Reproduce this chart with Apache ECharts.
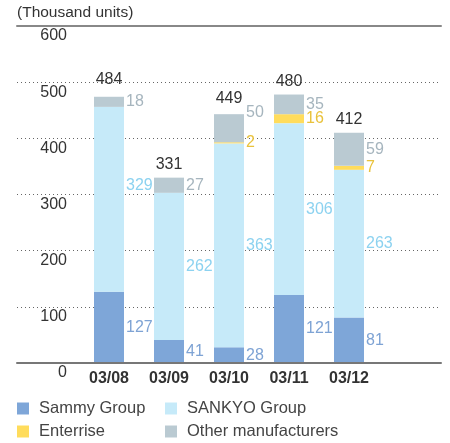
<!DOCTYPE html>
<html>
<head>
<meta charset="utf-8">
<script src="https://cdn.jsdelivr.net/npm/echarts@6/dist/echarts.min.js"></script>
<style>
  html, body { margin: 0; padding: 0; background: #fff; }
  #main { width: 450px; height: 443px; }
</style>
</head>
<body>
<div id="main"></div>
<script>
// data (thousand units)
var years = ['03/08', '03/09', '03/10', '03/11', '03/12'];
var sammy = [127, 41, 28, 121, 81];
var sankyo = [329, 262, 363, 306, 263];
var enterrise = [null, null, 2, 16, 7];
var others = [18, 27, 50, 35, 59];
var totals = [484, 331, 449, 480, 412];
var yTicks = [0, 100, 200, 300, 400, 500, 600];

var FONT = 'Liberation Sans, Arial, sans-serif';

var myChart = echarts.init(document.getElementById('main'));

function segLabel(color) {
  return {
    show: true,
    position: 'right',
    distance: 2,
    color: color,
    fontSize: 16,
    fontFamily: FONT,
    formatter: function (p) { return p.value == null ? '' : p.value; }
  };
}

// a couple of labels sit a bit higher in the original
function shifted(arr, idx, dy) {
  return arr.map(function (v, i) {
    return i === idx ? { value: v, label: { offset: [0, dy] } } : v;
  });
}

// one legend per item so they sit in a 2x2 block
function legendItem(name, left, top) {
  return {
    left: left, top: top, itemWidth: 12, itemHeight: 12, icon: 'rect',
    padding: 0, data: [name],
    textStyle: { fontSize: 16.5, color: '#444', fontFamily: FONT, padding: [0, 0, 0, 5] }
  };
}

var yMin = yTicks[0];
var yMax = yTicks[yTicks.length - 1];

myChart.setOption({
  animation: false,
  title: {
    text: '(Thousand units)',
    left: 12,
    top: 0,
    textStyle: { fontSize: 15.5, fontWeight: 'normal', color: '#333', fontFamily: FONT }
  },
  grid: [
    // background grid: rules + y labels, spans the full width
    { left: 17, right: 9, top: 26, height: 337 },
    // bars
    { left: 79, width: 300, top: 26, height: 337 }
  ],
  xAxis: [
    {
      gridIndex: 0, type: 'value', position: 'bottom', min: 0, max: 1, z: 10,
      axisLine: { show: true, onZero: false, lineStyle: { color: '#777', width: 2 } },
      axisTick: { show: false }, axisLabel: { show: false }, splitLine: { show: false }
    },
    {
      // solid rule along the top (needs z or the dotted line covers it)
      gridIndex: 0, type: 'value', position: 'top', min: 0, max: 1, z: 10,
      axisLine: { show: true, onZero: false, lineStyle: { color: '#888', width: 2 } },
      axisTick: { show: false }, axisLabel: { show: false }, splitLine: { show: false }
    },
    {
      gridIndex: 1, type: 'category', data: years,
      axisLine: { show: false }, axisTick: { show: false },
      axisLabel: { margin: 8, fontSize: 16, fontWeight: 'bold', color: '#333', fontFamily: FONT }
    }
  ],
  yAxis: [
    {
      // dotted rules + labels
      gridIndex: 0, type: 'value', min: yMin, max: yMax, interval: 100,
      axisLine: { show: false }, axisTick: { show: false },
      axisLabel: {
        inside: true, margin: 50, align: 'right', verticalAlign: 'top',
        padding: [2, 0, 0, 0], fontSize: 16, color: '#333', fontFamily: FONT
      },
      splitLine: {
        show: true,
        lineStyle: { color: '#666', type: [1, 3], width: 1 }
      }
    },
    {
      gridIndex: 1, type: 'value', min: yMin, max: yMax, interval: 100, show: false
    }
  ],
  legend: [
    legendItem('Sammy Group', 17, 400),
    legendItem('SANKYO Group', 165, 400),
    legendItem('Enterrise', 17, 423),
    legendItem('Other manufacturers', 165, 423)
  ],
  series: [
    {
      name: 'Sammy Group', type: 'bar', stack: 'units', xAxisIndex: 2, yAxisIndex: 1,
      barWidth: 30, data: sammy, itemStyle: { color: '#7ea6d8' },
      label: segLabel('#7ea3d4')
    },
    {
      name: 'SANKYO Group', type: 'bar', stack: 'units', xAxisIndex: 2, yAxisIndex: 1,
      barWidth: 30, data: shifted(sankyo, 0, -14), itemStyle: { color: '#c6eaf9' },
      label: segLabel('#8cd2f0')
    },
    {
      name: 'Enterrise', type: 'bar', stack: 'units', xAxisIndex: 2, yAxisIndex: 1,
      barWidth: 30, data: enterrise, itemStyle: { color: '#ffdc5c' },
      label: segLabel('#e9c23c')
    },
    {
      name: 'Other manufacturers', type: 'bar', stack: 'units', xAxisIndex: 2, yAxisIndex: 1,
      barWidth: 30, data: shifted(others, 2, -16), itemStyle: { color: '#bacad2' },
      label: segLabel('#a6b5be')
    },
    {
      name: 'Total', type: 'bar', xAxisIndex: 2, yAxisIndex: 1,
      barWidth: 30, barGap: '-100%', data: totals, silent: true,
      itemStyle: { color: 'rgba(0,0,0,0)' },
      label: {
        show: true, position: 'top', distance: 4,
        fontSize: 16, color: '#333', fontFamily: FONT
      }
    }
  ]
});
</script>
</body>
</html>
